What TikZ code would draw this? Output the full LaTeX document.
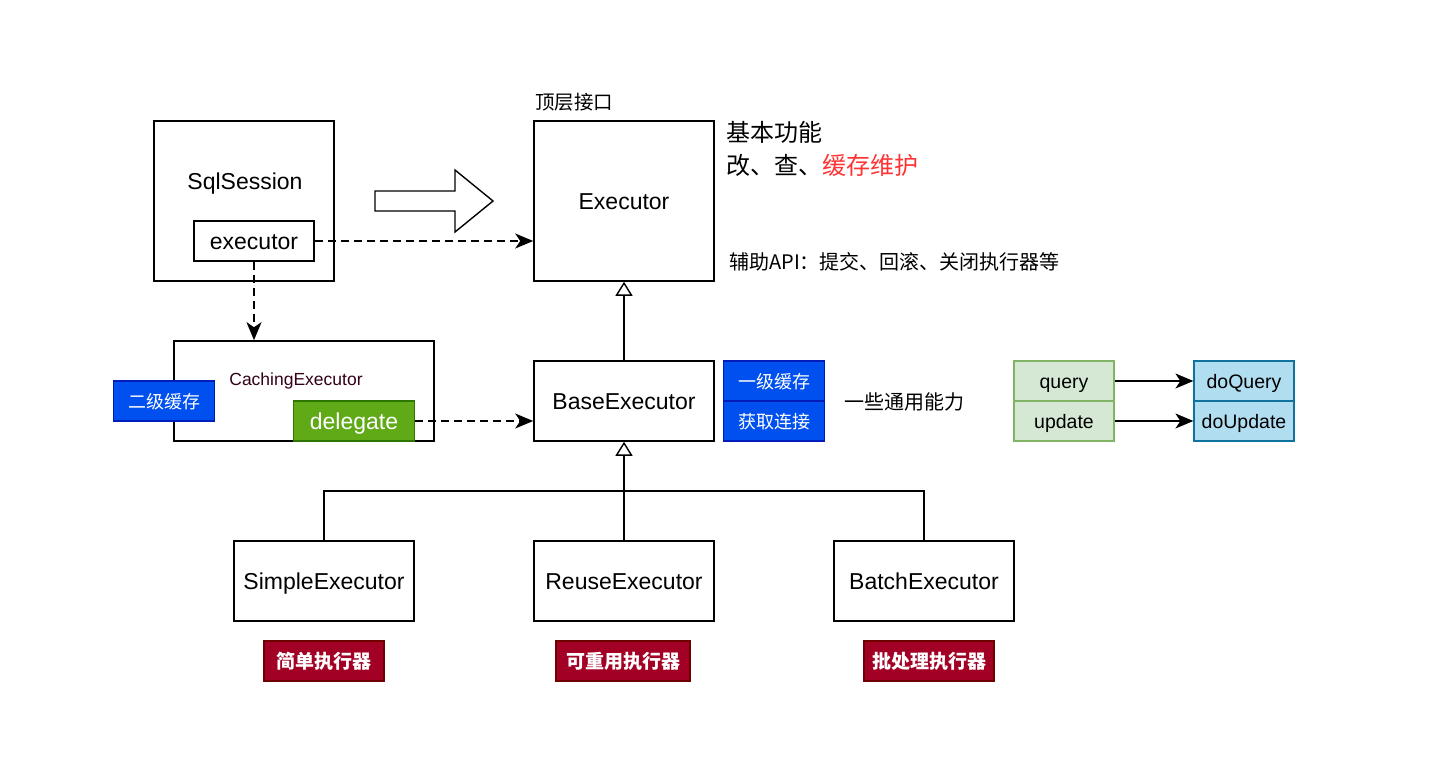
\documentclass[tikz,border=0pt]{standalone}
\usepackage{fontspec}
\setmainfont{Liberation Sans}
\newfontfamily\cjk{Noto Sans CJK SC}
\usepackage{xcolor}
\usetikzlibrary{arrows.meta}
\definecolor{cacheblue}{HTML}{0050EF}
\definecolor{cacheblueline}{HTML}{001DBC}
\definecolor{delegreen}{HTML}{60A917}
\definecolor{delegreenline}{HTML}{2D7600}
\definecolor{implred}{HTML}{A20025}
\definecolor{implredline}{HTML}{6F0000}
\definecolor{apigreen}{HTML}{D5E8D4}
\definecolor{apigreenline}{HTML}{82B366}
\definecolor{doblue}{HTML}{B1DDF0}
\definecolor{doblueline}{HTML}{10739E}
\definecolor{cachetext}{HTML}{33001A}
\definecolor{hotred}{HTML}{FF3333}

\begin{document}
\begin{tikzpicture}[x=1pt,y=-1pt,
  box/.style={draw,line width=1.6pt,inner sep=0pt,text height=17pt,text depth=0pt,
    font=\fontsize{23}{27}\selectfont},
  tag/.style={draw,line width=1.2pt,inner sep=0pt,text=white,minimum height=40,
    text height=14pt,text depth=0pt},
  api/.style={draw,line width=1.2pt,inner sep=0pt,minimum width=100,minimum height=40,
    text height=15pt,text depth=0pt,font=\fontsize{19.5}{23}\selectfont},
  dep/.style={line width=1.4pt,dash pattern=on 8pt off 5pt,
    -{Stealth[length=18pt,width=15pt,inset=5pt]}},
  calls/.style={line width=1.4pt,-{Stealth[length=18pt,width=15pt,inset=5pt]}},
  inherit/.style={line width=1.4pt,-{Triangle[open,length=14pt,width=17pt,line width=1.4pt]}}]
  \useasboundingbox (0,0) rectangle (1430,768);

  % session and its executor field
  \node[box,minimum width=180,minimum height=160] (sess) at (244,201) {};
  \node[text height=17pt,text depth=0pt,font=\fontsize{23}{27}\selectfont] (sessname) at (245,181) {SqlSession};
  \node[box,minimum width=120,minimum height=40] (field) at (254,241) {executor};

  % block arrow
  \draw[line width=1.4pt,fill=white] (375,191) -- (455,191) -- (455,170) -- (493,201)
    -- (455,232) -- (455,211) -- (375,211) -- cycle;

  % top interface
  \node[box,minimum width=180,minimum height=160] (top) at (624,201) {Executor};
  \node[anchor=west,inner sep=0pt,font=\cjk\fontsize{19.5}{23}\selectfont] (toplabel) at (535,102) {顶层接口};
  \node[anchor=north west,align=left,inner sep=0pt,font=\cjk\fontsize{24}{33}\selectfont] (basic)
    at (726,121) {基本功能\\改、查、\textcolor{hotred}{缓存维护}};
  \node[anchor=west,inner sep=0pt,font=\cjk\fontsize{20}{24}\selectfont] (assist)
    at (729,262) {辅助API：提交、回滚、关闭执行器等};

  % caching decorator
  \node[box,minimum width=260,minimum height=100] (cache) at (304,391) {};
  \node[text=cachetext,font=\fontsize{17.5}{20}\selectfont] (cachename) at (296,381) {CachingExecutor};
  \node[tag,fill=cacheblue,draw=cacheblueline,minimum width=101,font=\cjk\fontsize{18}{22}\selectfont]
    (second) at (164,401) {二级缓存};
  \node[tag,fill=delegreen,draw=delegreenline,minimum width=121,text height=16pt,font=\fontsize{23}{26}\selectfont]
    (delegate) at (354,421) {delegate};

  % base executor
  \node[box,minimum width=180,minimum height=80] (base) at (624,401) {BaseExecutor};
  \node[tag,fill=cacheblue,draw=cacheblueline,minimum width=101,font=\cjk\fontsize{18}{22}\selectfont]
    (first) at (774,381) {一级缓存};
  \node[tag,fill=cacheblue,draw=cacheblueline,minimum width=101,font=\cjk\fontsize{18}{22}\selectfont]
    (conn) at (774,421) {获取连接};
  \node[font=\cjk\fontsize{20}{24}\selectfont] (common) at (904,402) {一些通用能力};

  % template methods
  \node[api,fill=apigreen,draw=apigreenline] (query) at (1064,381) {query};
  \node[api,fill=apigreen,draw=apigreenline] (update) at (1064,421) {update};
  \node[api,fill=doblue,draw=doblueline] (doquery) at (1244,381) {doQuery};
  \node[api,fill=doblue,draw=doblueline] (doupdate) at (1244,421) {doUpdate};

  % implementations
  \node[box,minimum width=180,minimum height=80] (simple) at (324,581) {SimpleExecutor};
  \node[box,minimum width=180,minimum height=80] (reuse) at (624,581) {ReuseExecutor};
  \node[box,minimum width=180,minimum height=80] (batch) at (924,581) {BatchExecutor};
  \node[tag,fill=implred,draw=implredline,minimum width=120,font=\cjk\bfseries\fontsize{19}{23}\selectfont]
    (simplecn) at (324,661) {简单执行器};
  \node[tag,fill=implred,draw=implredline,minimum width=134,font=\cjk\bfseries\fontsize{19}{23}\selectfont]
    (reusecn) at (623,661) {可重用执行器};
  \node[tag,fill=implred,draw=implredline,minimum width=130,font=\cjk\bfseries\fontsize{19}{23}\selectfont]
    (batchcn) at (929,661) {批处理执行器};

  \coordinate (bus) at (624,491);

  % connectors
  \draw[dep] (field.east) -- (field.east -| top.west);
  \draw[dep] (field.south) -- (field.south |- cache.north);
  \draw[dep] (delegate.east) -- (delegate.east -| base.west);
  \draw[inherit] (base.north) -- (top.south);
  \draw[inherit] (reuse.north) -- (base.south);
  \draw[line width=1.4pt] (simple.north) |- (bus) -| (batch.north);
  \draw[calls] (query.east) -- (doquery.west);
  \draw[calls] (update.east) -- (doupdate.west);
\end{tikzpicture}
\end{document}
